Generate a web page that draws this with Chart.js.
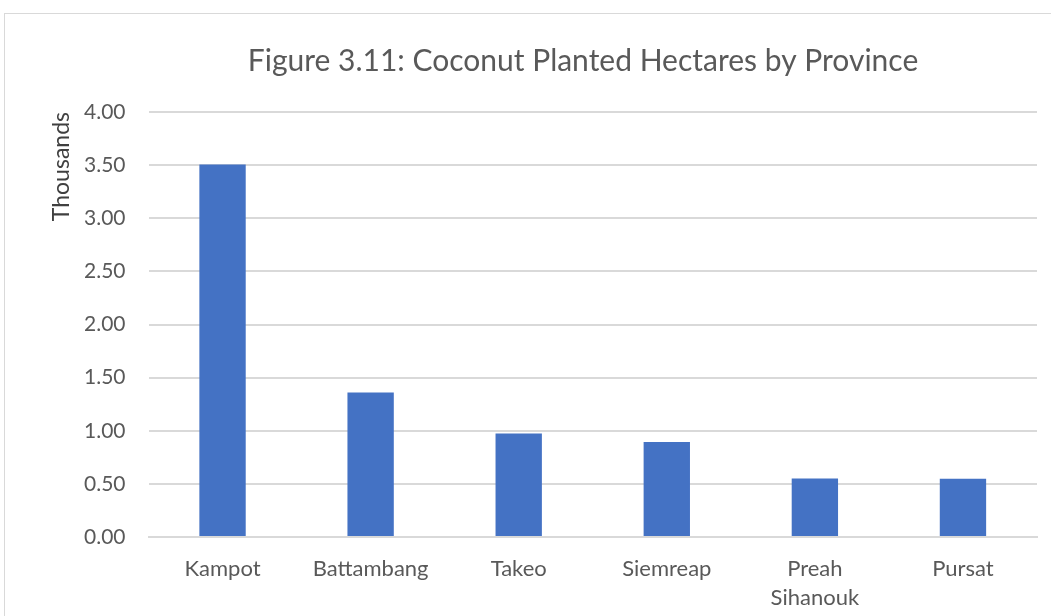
<!DOCTYPE html>
<html>
<head>
<meta charset="utf-8">
<script src="https://cdn.jsdelivr.net/npm/chart.js@4/dist/chart.umd.min.js"></script>
<style>
  html, body { margin: 0; padding: 0; background: #fff; overflow: hidden; }
  #frame {
    position: absolute; left: 4px; top: 13px;
    width: 1200px; height: 700px;
    border: 1px solid #d9d9d9;
  }
  #myChart { position: absolute; left: 0; top: 0; }
</style>
</head>
<body>
<div id="frame">
  <canvas id="myChart" width="1150" height="640"></canvas>
</div>
<script>
var provinces = ["Kampot", "Battambang", "Takeo", "Siemreap", ["Preah", "Sihanouk"], "Pursat"];
var hectares = [3.505, 1.36, 0.975, 0.893, 0.551, 0.548]; // thousands
var yTicks = [0, 0.5, 1, 1.5, 2, 2.5, 3, 3.5, 4];
var titleText = "Figure 3.11: Coconut Planted Hectares by Province";

var textGrey = "#595959";
var gridGrey = "#d9d9d9";
var barBlue = "#4472C4";

// excel puts the title in the middle of the whole chart box, not the plot
const titlePlugin = {
  id: "excelTitle",
  afterDraw(chart) {
    const ctx = chart.ctx;
    ctx.save();
    ctx.font = "30px Lato";
    ctx.fillStyle = textGrey;
    ctx.textAlign = "center";
    ctx.textBaseline = "alphabetic";
    ctx.fillText(titleText, 578, 57);
    ctx.restore();
  }
};

new Chart("myChart", {
  type: "bar",
  data: {
    labels: provinces,
    datasets: [
      {
        data: hectares,
        backgroundColor: barBlue,
        barPercentage: 0.313,
        categoryPercentage: 1.0,
      },
    ],
  },
  options: {
    responsive: false,
    animation: false,
    layout: {
      padding: { left: 39, top: 98, right: 118, bottom: 17 },
    },
    plugins: {
      legend: { display: false },
      tooltip: { enabled: false },
    },
    scales: {
      x: {
        grid: { display: false, drawTicks: false },
        border: { display: true, color: gridGrey, width: 2 },
        ticks: {
          color: textGrey,
          font: { family: "Lato", size: 22, lineHeight: 1.32 },
          padding: 17,
          maxRotation: 0,
          autoSkip: false,
        },
        afterFit: function (scale) { scale.height = 100; },
      },
      y: {
        min: 0,
        max: 4,
        afterBuildTicks: function (scale) {
          scale.ticks = yTicks.map(function (v) { return { value: v }; });
        },
        grid: { color: gridGrey, lineWidth: 2, drawTicks: false },
        border: { display: false },
        ticks: {
          color: textGrey,
          font: { family: "Lato", size: 21 },
          padding: 23,
          callback: function (v) { return Number(v).toFixed(2); },
        },
        title: {
          display: true,
          text: "Thousands",
          align: "end",
          color: "#404040",
          font: { family: "Lato", size: 23 },
          padding: { top: 4, bottom: 4 },
        },
        afterFit: function (scale) { scale.width = 104.5; },
      },
    },
  },
  plugins: [titlePlugin],
});
</script>
</body>
</html>
